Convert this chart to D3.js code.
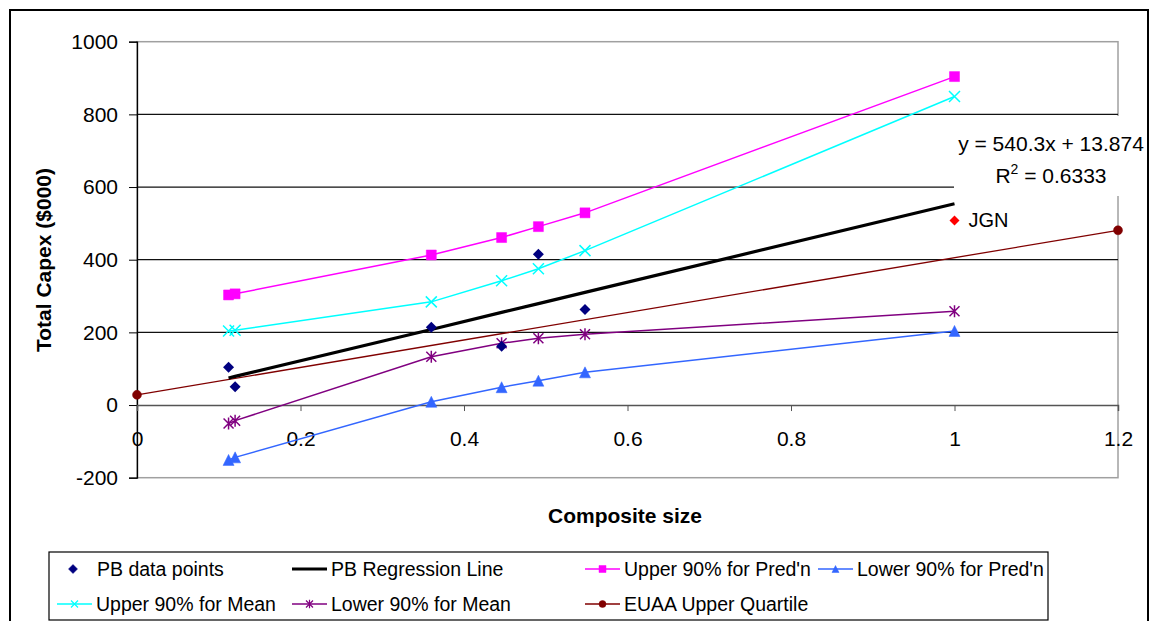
<!DOCTYPE html>
<html>
<head>
<meta charset="utf-8">
<script src="https://cdn.jsdelivr.net/npm/d3@7"></script>
<style>
  body { margin: 0; background: #fff; }
  svg { font-family: "Liberation Sans", Arial, sans-serif; }
</style>
</head>
<body>
<div id="chart"></div>
<script>
// values
var xVals = [0.112, 0.120, 0.360, 0.446, 0.491, 0.548, 1.0];
var pbX = [0.112, 0.120, 0.360, 0.446, 0.491, 0.548];
var pbY = [104, 50, 214, 162, 415, 263];
var regY = [74, 79, 208, 255, 279, 310, 554];
var upperPred = [303, 306, 413, 461, 491, 529, 904];
var lowerPred = [-151, -144, 9, 49, 67, 90, 204];
var upperMean = [204, 206, 284, 342, 375, 425, 849];
var lowerMean = [-51, -43, 133, 170, 184, 195, 258];
var euaaX = [0, 1.2];
var euaaY = [28, 481];
var jgnX = 1.0, jgnY = 508;
var xTicks = [0, 0.2, 0.4, 0.6, 0.8, 1, 1.2];
var yTicks = [-200, 0, 200, 400, 600, 800, 1000];

var W = 1153, H = 621;
var svg = d3.select("#chart").append("svg")
  .attr("width", W).attr("height", H);

// outer chart border
svg.append("rect").attr("x", 10).attr("y", 10).attr("width", 1138).attr("height", 640)
  .attr("fill", "#fff").attr("stroke", "#000").attr("stroke-width", 2);

var x = d3.scaleLinear().domain([0, 1.2]).range([137, 1118]);
var y = d3.scaleLinear().domain([-200, 1000]).range([477.7, 41.7]);

// plot area border
svg.append("rect").attr("x", x(0)).attr("y", y(1000))
  .attr("width", x(1.2) - x(0)).attr("height", y(-200) - y(1000))
  .attr("fill", "none").attr("stroke", "#a0a0a0").attr("stroke-width", 1.5);

// gridlines
svg.append("g").selectAll("line")
  .data([200, 400, 600, 800])
  .enter().append("line")
  .attr("x1", x(0)).attr("x2", x(1.2))
  .attr("y1", function(d) { return y(d); }).attr("y2", function(d) { return y(d); })
  .attr("stroke", "#111").attr("stroke-width", 1.2);

// axes
var yAxis = d3.axisLeft(y).tickValues(yTicks).tickSize(8).tickPadding(11)
  .tickFormat(function(d) { return String(d); });
var gy = svg.append("g").attr("transform", "translate(" + x(0) + ",0)").call(yAxis);
gy.select(".domain").attr("stroke", "#000").attr("stroke-width", 1.3);
gy.selectAll("text").attr("font-size", 21).attr("fill", "#000")
  .attr("font-family", "Liberation Sans, Arial, sans-serif");

var xAxis = d3.axisBottom(x).tickValues(xTicks).tickSize(6).tickPadding(20)
  .tickFormat(function(d) { return String(d); });
var gx = svg.append("g").attr("transform", "translate(0," + y(0) + ")").call(xAxis);
gx.select(".domain").attr("stroke", "#555").attr("stroke-width", 1.5);
gx.selectAll(".tick line").attr("stroke", "#555");
gx.selectAll("text").attr("font-size", 21).attr("fill", "#000")
  .attr("font-family", "Liberation Sans, Arial, sans-serif");

// axis titles
svg.append("text").attr("x", 625).attr("y", 523).attr("text-anchor", "middle")
  .attr("font-size", 21).attr("font-weight", "bold").text("Composite size");
svg.append("text").attr("transform", "translate(51,260) rotate(-90)")
  .attr("text-anchor", "middle").attr("font-size", 21).attr("font-weight", "bold")
  .text("Total Capex ($000)");

// marker shapes
function marker(type, s) {
  if (type == "diamond") return "M0," + (-s) + "L" + s + ",0L0," + s + "L" + (-s) + ",0Z";
  if (type == "square") return "M" + (-s) + "," + (-s) + "h" + (2*s) + "v" + (2*s) + "h" + (-2*s) + "Z";
  if (type == "triangle") return "M0," + (-s) + "L" + s + "," + s + "L" + (-s) + "," + s + "Z";
  if (type == "circle") return d3.symbol().type(d3.symbolCircle).size(Math.PI * s * s)();
  if (type == "x") return "M" + (-s) + "," + (-s) + "L" + s + "," + s + "M" + (-s) + "," + s + "L" + s + "," + (-s);
  if (type == "star") return "M" + (-s) + "," + (-s) + "L" + s + "," + s + "M" + (-s) + "," + s + "L" + s + "," + (-s) + "M0," + (-s*1.2) + "V" + (s*1.2);
}

var series = [
  {name: "Upper 90% for Pred'n", xs: xVals, ys: upperPred, color: "#ff00ff", width: 1.5, mark: "square", size: 5, fill: true},
  {name: "Upper 90% for Mean", xs: xVals, ys: upperMean, color: "#00ffff", width: 1.5, mark: "x", size: 5.5, fill: false},
  {name: "EUAA Upper Quartile", xs: euaaX, ys: euaaY, color: "#800000", width: 1.3, mark: "circle", size: 4.5, fill: true},
  {name: "Lower 90% for Mean", xs: xVals, ys: lowerMean, color: "#800080", width: 1.5, mark: "star", size: 5, fill: false},
  {name: "Lower 90% for Pred'n", xs: xVals, ys: lowerPred, color: "#3366ff", width: 1.5, mark: "triangle", size: 5.5, fill: true},
  {name: "PB Regression Line", xs: xVals, ys: regY, color: "#000", width: 3.2, mark: null}
];

var line = d3.line().x(function(d) { return x(d[0]); }).y(function(d) { return y(d[1]); });

series.forEach(function(s) {
  var pts = s.xs.map(function(v, i) { return [v, s.ys[i]]; });
  svg.append("path").datum(pts).attr("d", line)
    .attr("fill", "none").attr("stroke", s.color).attr("stroke-width", s.width);
  if (s.mark) {
    svg.append("g").selectAll("path").data(pts).enter().append("path")
      .attr("transform", function(d) { return "translate(" + x(d[0]) + "," + y(d[1]) + ")"; })
      .attr("d", marker(s.mark, s.size))
      .attr("fill", s.fill ? s.color : "none")
      .attr("stroke", s.color).attr("stroke-width", s.fill ? 0.5 : 1.5);
  }
});

// PB data points
svg.append("g").selectAll("path").data(pbX).enter().append("path")
  .attr("transform", function(d, i) { return "translate(" + x(d) + "," + y(pbY[i]) + ")"; })
  .attr("d", marker("diamond", 5.5)).attr("fill", "#000080");

// JGN point
svg.append("path").attr("transform", "translate(" + x(jgnX) + "," + y(jgnY) + ")")
  .attr("d", marker("diamond", 5)).attr("fill", "#ff0000");
svg.append("text").attr("x", x(jgnX) + 14).attr("y", y(jgnY)).attr("dy", "0.35em")
  .attr("font-size", 20).text("JGN");

// trendline label
svg.append("rect").attr("x", 954).attr("y", 116).attr("width", 190).attr("height", 80).attr("fill", "#fff");
svg.append("text").attr("x", 1051).attr("y", 151).attr("text-anchor", "middle")
  .attr("font-size", 21).text("y = 540.3x + 13.874");
var r2 = svg.append("text").attr("x", 1051).attr("y", 183).attr("text-anchor", "middle").attr("font-size", 21);
r2.append("tspan").text("R");
r2.append("tspan").attr("dy", -9).attr("font-size", 14).text("2");
r2.append("tspan").attr("dy", 9).text(" = 0.6333");

// legend
svg.append("rect").attr("x", 49).attr("y", 552).attr("width", 999).attr("height", 68)
  .attr("fill", "#fff").attr("stroke", "#000").attr("stroke-width", 1.2);

var legendItems = [
  {name: "PB data points", lx: 73, tx: 97, row: 0, color: "#000080", mark: "diamond", noLine: true, fill: true, w: 1},
  {name: "PB Regression Line", lx: 292, tx: 331, row: 0, color: "#000", mark: null, w: 3},
  {name: "Upper 90% for Pred'n", lx: 585, tx: 624, row: 0, color: "#ff00ff", mark: "square", fill: true, w: 1.5},
  {name: "Lower 90% for Pred'n", lx: 818, tx: 857, row: 0, color: "#3366ff", mark: "triangle", fill: true, w: 1.5},
  {name: "Upper 90% for Mean", lx: 57, tx: 96, row: 1, color: "#00ffff", mark: "x", fill: false, w: 1.5},
  {name: "Lower 90% for Mean", lx: 292, tx: 331, row: 1, color: "#800080", mark: "star", fill: false, w: 1.5},
  {name: "EUAA Upper Quartile", lx: 585, tx: 624, row: 1, color: "#800000", mark: "circle", fill: true, w: 1.5}
];
var rowY = [569, 604];

var lg = svg.append("g").selectAll("g").data(legendItems).enter().append("g");
lg.filter(function(d) { return !d.noLine; }).append("line")
  .attr("x1", function(d) { return d.lx; }).attr("x2", function(d) { return d.lx + 35; })
  .attr("y1", function(d) { return rowY[d.row]; }).attr("y2", function(d) { return rowY[d.row]; })
  .attr("stroke", function(d) { return d.color; }).attr("stroke-width", function(d) { return d.w; });
lg.filter(function(d) { return d.mark; }).append("path")
  .attr("transform", function(d) {
    var cx = d.noLine ? d.lx : d.lx + 17.5;
    return "translate(" + cx + "," + rowY[d.row] + ")";
  })
  .attr("d", function(d) { return marker(d.mark, d.mark == "diamond" ? 4.5 : 3.5); })
  .attr("fill", function(d) { return d.fill ? d.color : "none"; })
  .attr("stroke", function(d) { return d.color; })
  .attr("stroke-width", function(d) { return d.fill ? 0.5 : 1.2; });
lg.append("text")
  .attr("x", function(d) { return d.tx; }).attr("y", function(d) { return rowY[d.row]; })
  .attr("dy", "0.35em").attr("font-size", 19.5).text(function(d) { return d.name; });
</script>
</body>
</html>
